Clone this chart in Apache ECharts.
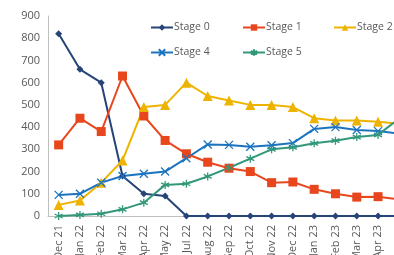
<!DOCTYPE html>
<html>
<head>
<meta charset="utf-8">
<script src="https://cdn.jsdelivr.net/npm/echarts@6/dist/echarts.min.js"></script>
<style>
  html, body { margin: 0; padding: 0; background: #fff; }
  #chart { width: 394px; height: 255px; }
</style>
</head>
<body>
<div id="chart"></div>
<script>
var months = ['Dec 21', 'Jan 22', 'Feb 22', 'Mar 22', 'Apr 22', 'May 22', 'Jul 22', 'Aug 22', 'Sep 22',
  'Oct 22', 'Nov 22', 'Dec 22', 'Jan 23', 'Feb 23', 'Mar 23', 'Apr 23', 'May 23'];
var stage0 = [820, 660, 600, 180, 100, 90, 0, 0, 0, 0, 0, 0, 0, 0, 0, 0, 0];
var stage1 = [320, 440, 380, 630, 450, 340, 280, 242, 215, 200, 150, 153, 120, 100, 85, 87, 74];
var stage2 = [50, 70, 150, 250, 490, 500, 600, 540, 520, 500, 500, 490, 440, 430, 430, 424, 415];
var stage4 = [95, 100, 150, 180, 190, 200, 260, 322, 320, 312, 318, 328, 392, 400, 387, 382, 370];
var stage5 = [0, 5, 10, 30, 60, 140, 145, 178, 217, 258, 300, 309, 327, 339, 355, 365, 440];
var yTicks = [0, 900, 100]; // min, max, step

var chart = echarts.init(document.getElementById('chart'));
var txt = '#595959';
var font = "'Open Sans', sans-serif";

// x marker and asterisk marker, drawn as strokes
var xMark = 'path://M0,0L10,10M10,0L0,10';
var starMark = 'path://M5,0L5,10M0,2.5L10,7.5M10,2.5L0,7.5';

function mkLegend(name, left, top) {
  return {
    data: [name], left: left, top: top, padding: 0, itemWidth: 22, itemHeight: 8, itemGap: 0,
    textStyle: { color: txt, fontSize: 10.5, fontFamily: font, padding: [0, 0, 0, -4] }
  };
}

function mkSeries(name, data, color, symbol, size, stroke) {
  var s = {
    name: name, type: 'line', data: data,
    symbol: symbol, symbolSize: size, showSymbol: true,
    color: color,
    lineStyle: { color: color, width: 2 },
    itemStyle: { color: color },
    emphasis: { disabled: true },
    animation: false
  };
  if (stroke) {
    s.itemStyle = { color: color, borderColor: color, borderWidth: 1.3 };
  }
  return s;
}

chart.setOption({
  backgroundColor: '#fff',
  legend: [
    mkLegend('Stage 0', 150, 22),
    mkLegend('Stage 1', 242, 22),
    mkLegend('Stage 2', 333, 22),
    mkLegend('Stage 4', 150, 47),
    mkLegend('Stage 5', 242, 47)
  ],
  grid: { left: 48, top: 16, bottom: 39, width: 362, outerBoundsMode: 'none' },
  xAxis: {
    type: 'category',
    data: months,
    boundaryGap: true,
    axisLine: { lineStyle: { color: '#bfbfbf', width: 1 } },
    axisTick: { show: false },
    axisLabel: { rotate: 90, color: txt, fontSize: 11, fontFamily: font, margin: 9, interval: 0 }
  },
  yAxis: {
    type: 'value',
    min: yTicks[0], max: yTicks[1], interval: yTicks[2],
    axisLine: { show: true, lineStyle: { color: '#bfbfbf', width: 1 } },
    axisTick: { show: false },
    splitLine: { show: false },
    axisLabel: { color: txt, fontSize: 11, fontFamily: font, margin: 8 }
  },
  series: [
    mkSeries('Stage 0', stage0, '#264478', 'diamond', 7),
    mkSeries('Stage 1', stage1, '#E8471E', 'rect', 9),
    mkSeries('Stage 2', stage2, '#EEB300', 'triangle', 10),
    mkSeries('Stage 4', stage4, '#1C74C0', xMark, 8, true),
    mkSeries('Stage 5', stage5, '#33987A', starMark, 8, true)
  ]
});
</script>
</body>
</html>
